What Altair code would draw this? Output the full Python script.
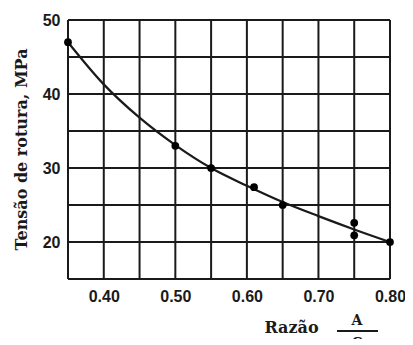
import altair as alt
import pandas as pd

# measured points
pt_x = [0.35, 0.50, 0.55, 0.61, 0.65, 0.75, 0.75, 0.80]
pt_y = [47.0, 33.0, 30.0, 27.4, 25.0, 22.6, 20.9, 20.0]

# fitted curve
cv_x = [0.35, 0.40, 0.45, 0.50, 0.55, 0.60, 0.65, 0.70, 0.75, 0.80]
cv_y = [47.0, 41.3, 36.8, 33.1, 30.0, 27.6, 25.4, 23.5, 21.7, 20.0]

# grid lines and tick labels
x_grid = [0.35, 0.40, 0.45, 0.50, 0.55, 0.60, 0.65, 0.70, 0.75, 0.80]
y_grid = [15, 20, 25, 30, 35, 40, 45, 50]
x_labels = [0.40, 0.50, 0.60, 0.70, 0.80]
y_labels = [20, 30, 40, 50]

pts = pd.DataFrame({"x": pt_x, "y": pt_y})
cv = pd.DataFrame({"x": cv_x, "y": cv_y})
gx = pd.DataFrame({"x": x_grid})
gy = pd.DataFrame({"y": y_grid})

W, H = 322, 259
LABEL_FONT = "Liberation Sans"
TITLE_FONT = "DejaVu Serif"
INK = "#1a1a1a"

xscale = alt.Scale(domain=[0.35, 0.80], nice=False, zero=False)
yscale = alt.Scale(domain=[15, 50], nice=False, zero=False)

xaxis = alt.Axis(
    values=x_labels, format=".2f", grid=False, ticks=False, domain=False,
    labelFont=LABEL_FONT, labelFontSize=16, labelFontWeight="bold",
    labelColor=INK, labelPadding=9, labelFlush=False, labelOverlap=False,
    title="Razão", titleFont=TITLE_FONT, titleFontSize=16, titleFontWeight="bold",
    titleColor=INK, titleX=223, titleY=48, titleBaseline="middle", titleAlign="center",
)
yaxis = alt.Axis(
    values=y_labels, grid=False, ticks=False, domain=False,
    labelFont=LABEL_FONT, labelFontSize=16, labelFontWeight="bold",
    labelColor=INK, labelPadding=8, labelFlush=False, labelOverlap=False,
    title="Tensão de rotura, MPa", titleFont=TITLE_FONT, titleFontSize=16,
    titleFontWeight="bold", titleColor=INK, titleX=-47, titleY=129,
    titleAngle=-90, titleBaseline="middle", titleAlign="center",
)

vgrid = alt.Chart(gx).mark_rule(color=INK, strokeWidth=2).encode(
    x=alt.X("x:Q", scale=xscale, axis=xaxis)
)
hgrid = alt.Chart(gy).mark_rule(color=INK, strokeWidth=2).encode(
    y=alt.Y("y:Q", scale=yscale, axis=yaxis)
)
curve = alt.Chart(cv).mark_line(color=INK, strokeWidth=2.2, interpolate="monotone").encode(
    x=alt.X("x:Q", scale=xscale),
    y=alt.Y("y:Q", scale=yscale),
)
dots = alt.Chart(pts).mark_circle(color="#000", size=60, opacity=1).encode(
    x=alt.X("x:Q", scale=xscale), y=alt.Y("y:Q", scale=yscale)
)

frac_a = alt.Chart(pd.DataFrame({"t": ["A"]})).mark_text(
    font=TITLE_FONT, fontSize=14, fontWeight="bold", color=INK, baseline="middle"
).encode(text="t:N", x=alt.value(289), y=alt.value(301))
frac_c = alt.Chart(pd.DataFrame({"t": ["C"]})).mark_text(
    font=TITLE_FONT, fontSize=14, fontWeight="bold", color=INK, baseline="middle"
).encode(text="t:N", x=alt.value(289), y=alt.value(324))
frac_line = alt.Chart(pd.DataFrame({"t": [0]})).mark_rule(color=INK, strokeWidth=2).encode(
    x=alt.value(269), x2=alt.value(310), y=alt.value(311)
)

chart = alt.layer(vgrid, hgrid, curve, dots, frac_a, frac_c, frac_line).properties(
    width=W, height=H,
    autosize=alt.AutoSizeParams(type="none"),
    padding={"left": 60, "top": 12, "right": 15, "bottom": 60},
).configure_view(stroke=INK, strokeWidth=2).configure(background="white")

chart.save("out.html", embed_options={"renderer": "svg", "actions": False})
